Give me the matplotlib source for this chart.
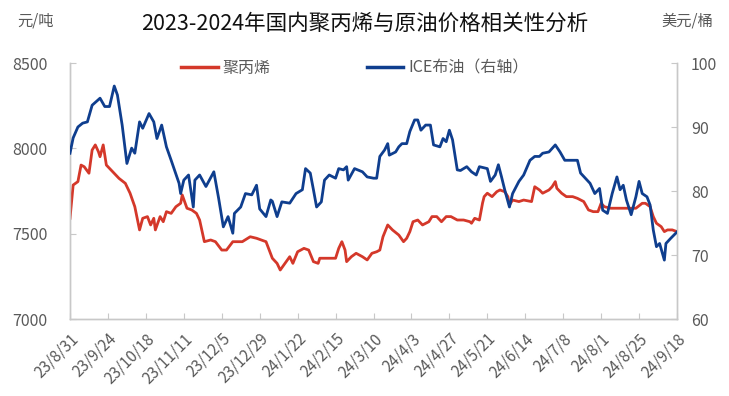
import matplotlib
matplotlib.use("Agg")
import matplotlib.pyplot as plt
import pandas as pd
from matplotlib.lines import Line2D

plt.rcParams['font.family'] = ['Noto Sans CJK SC', 'DejaVu Sans']

# ---- data ----
start_date = "2023-08-31"
pp_days = [0, 2, 5, 7, 9, 12, 14, 16, 18, 19, 21, 23, 26, 31, 35, 38, 41, 44, 46, 49,
           51, 53, 54, 57, 59, 61, 64, 67, 70, 71, 74, 77, 80, 82, 85, 89, 92, 96, 99, 103,
           109, 114, 118, 121, 124, 128, 131, 133, 136, 139, 141, 144, 148, 151, 154, 157, 158, 162, 168, 170,
           172, 174, 175, 178, 181, 185, 188, 191, 194, 196, 198, 201, 204, 208, 211, 213, 215, 217, 220, 223,
           227, 229, 232, 235, 238, 241, 245, 249, 253, 254, 256, 259, 261, 262, 264, 267, 270, 272, 275, 277,
           278, 280, 284, 287, 292, 294, 297, 299, 303, 305, 307, 308, 311, 314, 318, 321, 325, 328, 331, 334,
           336, 338, 342, 348, 354, 358, 362, 364, 367, 369, 371, 374, 376, 378, 381, 384]
pp_values = [7590, 7785, 7805, 7902, 7892, 7854, 7990, 8020, 7980, 7951, 8020, 7902, 7873, 7824, 7795, 7737, 7658, 7522, 7590, 7600,
             7551, 7590, 7522, 7600, 7570, 7629, 7619, 7658, 7678, 7727, 7649, 7639, 7619, 7580, 7453, 7463, 7453, 7404, 7404, 7453,
             7453, 7482, 7473, 7463, 7453, 7356, 7326, 7287, 7326, 7365, 7326, 7394, 7414, 7404, 7336, 7326, 7356, 7356, 7356, 7414,
             7453, 7404, 7336, 7365, 7385, 7365, 7346, 7385, 7394, 7404, 7482, 7551, 7522, 7492, 7453, 7473, 7512, 7570, 7580, 7551,
             7570, 7600, 7600, 7570, 7600, 7600, 7580, 7580, 7570, 7561, 7590, 7580, 7680, 7717, 7737, 7717, 7746, 7756, 7746, 7717,
             7668, 7697, 7688, 7697, 7688, 7775, 7756, 7737, 7756, 7775, 7805, 7766, 7737, 7717, 7717, 7707, 7688, 7639, 7629, 7629,
             7678, 7658, 7649, 7649, 7649, 7649, 7678, 7678, 7658, 7600, 7561, 7541, 7512, 7522, 7522, 7512]

brent_days = [0, 2, 5, 8, 11, 14, 19, 22, 25, 28, 30, 33, 36, 39, 41, 44, 46, 50, 53, 55,
              58, 61, 64, 69, 70, 72, 75, 78, 79, 82, 86, 91, 94, 97, 100, 103, 104, 108, 111, 115,
              118, 120, 123, 124, 127, 128, 131, 134, 139, 143, 147, 149, 152, 154, 156, 159, 161, 164, 168, 170,
              173, 175, 176, 180, 185, 188, 192, 194, 196, 199, 201, 202, 206, 208, 210, 213, 215, 218, 220, 222,
              225, 228, 230, 234, 236, 238, 240, 242, 245, 247, 251, 254, 257, 259, 264, 266, 269, 271, 273, 275,
              278, 280, 284, 287, 291, 294, 297, 299, 303, 307, 310, 313, 316, 321, 323, 326, 329, 332, 335, 337,
              340, 343, 346, 348, 350, 352, 355, 358, 360, 362, 365, 367, 369, 371, 373, 376, 377, 380, 384]
brent_values = [85.9, 88.3, 90.0, 90.6, 90.8, 93.4, 94.5, 93.2, 93.2, 96.4, 95.0, 90.3, 84.3, 86.7, 85.9, 90.8, 89.8, 92.1, 90.8, 88.2,
                90.3, 86.9, 84.8, 81.2, 79.6, 81.7, 82.5, 77.5, 81.7, 82.5, 80.7, 83.0, 78.9, 74.4, 76.0, 73.4, 76.5, 77.5, 79.6, 79.4,
                80.9, 77.2, 76.3, 76.0, 78.6, 78.4, 76.0, 78.3, 78.1, 79.6, 80.2, 83.5, 82.8, 80.2, 77.5, 78.3, 81.7, 82.5, 82.0, 83.5,
                83.3, 83.8, 81.7, 83.5, 83.0, 82.2, 82.0, 82.0, 85.4, 86.4, 87.4, 85.6, 86.1, 86.9, 87.4, 87.4, 89.3, 91.1, 91.1, 89.5,
                90.3, 90.3, 87.2, 86.9, 88.2, 87.7, 89.5, 88.0, 83.3, 83.2, 83.8, 83.0, 82.5, 83.8, 83.5, 81.5, 82.5, 84.1, 82.2, 80.2,
                77.5, 79.6, 81.5, 82.5, 84.8, 85.4, 85.4, 85.9, 86.1, 87.2, 86.1, 84.8, 84.8, 84.8, 82.8, 82.0, 81.2, 79.6, 80.4, 77.0,
                76.5, 79.6, 82.2, 80.2, 80.9, 78.6, 76.3, 79.1, 81.5, 79.6, 79.1, 77.8, 73.9, 71.3, 71.8, 69.2, 71.8, 72.6, 73.6]

tick_labels = ["23/8/31", "23/9/24", "23/10/18", "23/11/11", "23/12/5", "23/12/29", "24/1/22",
               "24/2/15", "24/3/10", "24/4/3", "24/4/27", "24/5/21", "24/6/14", "24/7/8",
               "24/8/1", "24/8/25", "24/9/18"]

series_names = ["聚丙烯", "ICE布油（右轴）"]
title = "2023-2024年国内聚丙烯与原油价格相关性分析"

# ---- plot ----
base = pd.Timestamp(start_date)
pp_dates = base + pd.to_timedelta(pp_days, unit="D")
brent_dates = base + pd.to_timedelta(brent_days, unit="D")
tick_dates = [pd.Timestamp("20" + t.split("/")[0] + "-" + t.split("/")[1] + "-" + t.split("/")[2]) for t in tick_labels]

RED = "#D4382A"
BLUE = "#0F3E8E"
GRAY = "#595959"
SPINE = "#C8C8C8"

fig = plt.figure(figsize=(7.29, 3.96), dpi=100)
ax = fig.add_axes([70/729, 1-319/396, (677-70)/729, (319-63)/396])
ax2 = ax.twinx()

ax.plot(pp_dates, pp_values, color=RED, lw=2.0, zorder=3)
ax2.plot(brent_dates, brent_values, color=BLUE, lw=2.0, zorder=3)

ax.set_xlim(tick_dates[0], tick_dates[-1])
ax.set_ylim(7000, 8500)
ax2.set_ylim(60, 100)
ax.set_yticks([7000, 7500, 8000, 8500])
ax2.set_yticks([60, 70, 80, 90, 100])
ax.set_xticks(tick_dates)
ax.set_xticklabels(tick_labels, rotation=45, ha="right", rotation_mode="anchor")

for a in (ax, ax2):
    a.patch.set_visible(False)
    a.spines["top"].set_visible(False)
    for s in ("left", "right", "bottom"):
        a.spines[s].set_color(SPINE)
        a.spines[s].set_linewidth(1.0)
    a.tick_params(direction="in", length=4, color=SPINE, labelcolor=GRAY, labelsize=11.5)
ax.tick_params(axis="y", pad=16)
ax2.tick_params(axis="y", pad=10)
ax.tick_params(axis="x", pad=8, labelsize=11)

fig.text(365/729, 1-24/396, title, ha="center", va="center", fontsize=15.5, color="#111111")
fig.text(36/729, 1-21/396, "元/吨", ha="center", va="center", fontsize=11, color=GRAY)
fig.text(687/729, 1-21/396, "美元/桶", ha="center", va="center", fontsize=11, color=GRAY)

handles = [Line2D([], [], color=RED, lw=2.5), Line2D([], [], color=BLUE, lw=2.5)]
fig.legend(handles, series_names, loc="center", bbox_to_anchor=(355/729, 1-68/396), ncol=2,
           frameon=False, fontsize=11.5, labelcolor=GRAY, handlelength=2.3, handletextpad=0.3,
           columnspacing=6.0)

fig.savefig("out.png", dpi=100)
